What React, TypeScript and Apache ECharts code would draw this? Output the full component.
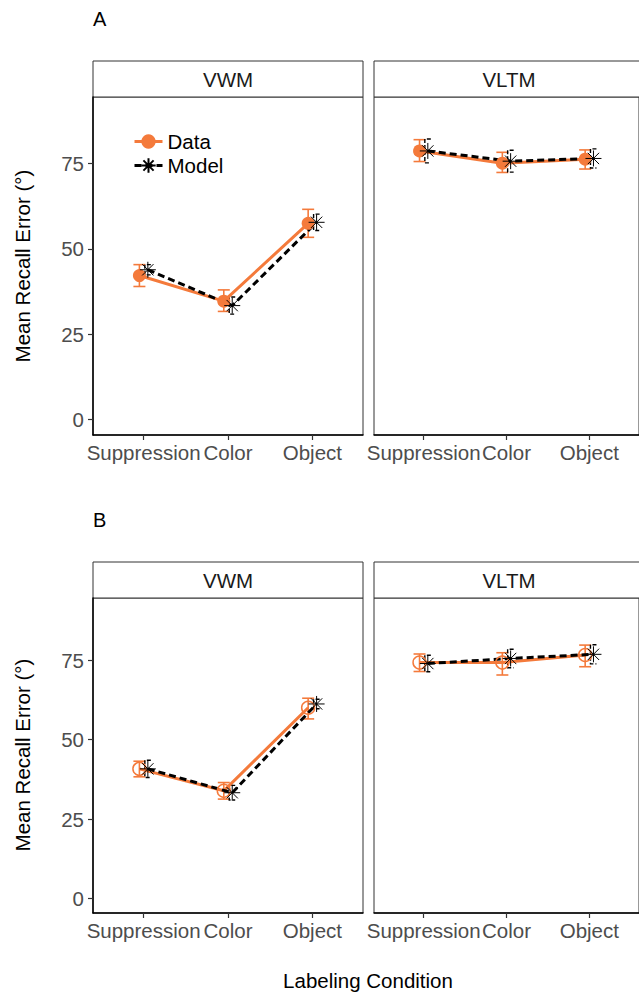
import React, { useEffect, useRef } from 'react';
import * as echarts from 'echarts';

// ---------- data ----------
const categories = ['Suppression', 'Color', 'Object'];
const yTicks = [0, 25, 50, 75];
const panelNames = ['VWM', 'VLTM'];
const seriesNames = ['Data', 'Model'];
const rowLabels = ['A', 'B'];
const xTitle = 'Labeling Condition';
const yTitle = 'Mean Recall Error (°)';

// Panel A, VWM
const aVwmData = [42.2, 34.7, 57.5];
const aVwmDataLo = [39.0, 31.7, 53.4];
const aVwmDataHi = [45.4, 38.0, 61.6];
const aVwmModel = [43.9, 33.4, 57.8];
const aVwmModelErr = [1.5, 2.5, 2.4];

// Panel A, VLTM
const aVltmData = [78.7, 75.1, 76.3];
const aVltmDataLo = [75.6, 72.4, 73.4];
const aVltmDataHi = [82.0, 78.3, 79.0];
const aVltmModel = [78.7, 75.7, 76.5];
const aVltmModelErr = [3.5, 3.2, 2.8];

// Panel B, VWM
const bVwmData = [40.8, 33.9, 60.0];
const bVwmDataLo = [38.3, 31.3, 56.5];
const bVwmDataHi = [43.2, 36.5, 63.0];
const bVwmModel = [40.8, 33.3, 61.2];
const bVwmModelErr = [2.7, 2.3, 1.5];

// Panel B, VLTM
const bVltmData = [74.2, 74.2, 76.6];
const bVltmDataLo = [71.4, 70.3, 72.9];
const bVltmDataHi = [76.9, 77.3, 79.7];
const bVltmModel = [73.9, 75.5, 76.8];
const bVltmModelErr = [2.6, 2.9, 3.0];

// ---------- styling ----------
const ORANGE = '#F47A3B';
const FONT = '"Liberation Sans", Arial, Helvetica, sans-serif';
const DODGE = 0.05;
const ASTERISK = 'path://M10,0L10,20M0,10L20,10M2.93,2.93L17.07,17.07M2.93,17.07L17.07,2.93';

const panels = [
  { grid: { left: 93, top: 97, width: 270, height: 338 }, data: aVwmData, lo: aVwmDataLo, hi: aVwmDataHi, model: aVwmModel, err: aVwmModelErr, filled: true, first: true, strip: 0 },
  { grid: { left: 374, top: 97, width: 270, height: 338 }, data: aVltmData, lo: aVltmDataLo, hi: aVltmDataHi, model: aVltmModel, err: aVltmModelErr, filled: true, first: false, strip: 1 },
  { grid: { left: 93, top: 598, width: 270, height: 315 }, data: bVwmData, lo: bVwmDataLo, hi: bVwmDataHi, model: bVwmModel, err: bVwmModelErr, filled: false, first: true, strip: 0 },
  { grid: { left: 374, top: 598, width: 270, height: 315 }, data: bVltmData, lo: bVltmDataLo, hi: bVltmDataHi, model: bVltmModel, err: bVltmModelErr, filled: false, first: false, strip: 1 },
];

function errRender(color: string, dashed: boolean) {
  return (params: any, api: any) => {
    const x = api.value(0);
    const top = api.coord([x, api.value(2)]);
    const bot = api.coord([x, api.value(1)]);
    if (dashed) {
      const cx = top[0] - 3;
      return {
        type: 'polyline',
        shape: { points: [[cx + 6, top[1]], [cx, top[1]], [cx, bot[1]], [cx + 6, bot[1]]] },
        style: { stroke: color, lineWidth: 1.4, lineDash: [4, 2], fill: null },
      };
    }
    const w = 6;
    return {
      type: 'group',
      children: [
        { type: 'line', shape: { x1: top[0], y1: top[1], x2: bot[0], y2: bot[1] }, style: { stroke: color, lineWidth: 1.6 } },
        { type: 'line', shape: { x1: top[0] - w, y1: top[1], x2: top[0] + w, y2: top[1] }, style: { stroke: color, lineWidth: 1.6 } },
        { type: 'line', shape: { x1: bot[0] - w, y1: bot[1], x2: bot[0] + w, y2: bot[1] }, style: { stroke: color, lineWidth: 1.6 } },
      ],
    };
  };
}

export default function App() {
  const ref = useRef<HTMLDivElement>(null);
  useEffect(() => {
    if (!ref.current) return;
    const chart = echarts.init(ref.current, null, { renderer: 'svg' });
    const xTickValues = categories.map((_, i) => i + 1);

    const grids: any[] = [];
    const xAxes: any[] = [];
    const yAxes: any[] = [];
    const series: any[] = [];

    panels.forEach((p, i) => {
      grids.push({ ...p.grid, show: true, borderColor: '#333', borderWidth: 1, backgroundColor: 'transparent' });
      xAxes.push({
        type: 'value', gridIndex: i, min: 0.4, max: 3.6,
        splitLine: { show: false },
        axisLine: { show: true, onZero: false, lineStyle: { color: '#000', width: 1.5 } },
        axisTick: { show: true, customValues: xTickValues, length: 5, lineStyle: { color: '#333', width: 1.2 } },
        axisLabel: {
          show: true, customValues: xTickValues, margin: 7,
          formatter: (v: number) => categories[Math.round(v) - 1] ?? '',
          fontSize: 20.5, color: '#4D4D4D', fontFamily: FONT,
        },
      });
      yAxes.push({
        type: 'value', gridIndex: i, min: -4.5, max: 94.5,
        splitLine: { show: false },
        axisLine: { show: p.first, onZero: false, lineStyle: { color: '#000', width: 1.5 } },
        axisTick: { show: p.first, customValues: yTicks, length: 5, lineStyle: { color: '#333', width: 1.2 } },
        axisLabel: { show: p.first, customValues: yTicks, margin: 9, fontSize: 20.5, color: '#4D4D4D', fontFamily: FONT },
      });

      const dataPts = p.data.map((v, k) => [k + 1 - DODGE, v]);
      const modelPts = p.model.map((v, k) => [k + 1 + DODGE, v]);
      const dataErr = p.data.map((_, k) => [k + 1 - DODGE, p.lo[k], p.hi[k]]);
      const modelErr = p.model.map((v, k) => [k + 1 + DODGE, v - p.err[k], v + p.err[k]]);

      series.push({
        type: 'custom', name: 'dataErr' + i, xAxisIndex: i, yAxisIndex: i,
        renderItem: errRender(ORANGE, false), data: dataErr, encode: { x: 0, y: [1, 2] }, silent: true,
      });
      series.push({
        type: 'line', name: seriesNames[0], xAxisIndex: i, yAxisIndex: i, data: dataPts,
        symbol: 'circle', symbolSize: 13, showSymbol: true,
        lineStyle: { color: ORANGE, width: 3 },
        itemStyle: p.filled
          ? { color: ORANGE, borderColor: ORANGE, borderWidth: 0 }
          : { color: 'rgba(255,255,255,0)', borderColor: ORANGE, borderWidth: 1.5 },
        silent: true,
      });
      series.push({
        type: 'custom', name: 'modelErr' + i, xAxisIndex: i, yAxisIndex: i,
        renderItem: errRender('#000', true), data: modelErr, encode: { x: 0, y: [1, 2] }, silent: true,
      });
      series.push({
        type: 'line', name: seriesNames[1], xAxisIndex: i, yAxisIndex: i, data: modelPts,
        symbol: ASTERISK, symbolSize: 16, showSymbol: true,
        lineStyle: { color: '#000', width: 3, type: [7, 4] },
        itemStyle: { color: '#000', borderColor: '#000', borderWidth: 1 },
        silent: true,
      });
    });

    const graphics: any[] = [];
    panels.forEach((p) => {
      const g = p.grid;
      graphics.push({
        type: 'rect', shape: { x: g.left, y: g.top - 36, width: g.width, height: 36 },
        style: { fill: '#fff', stroke: '#333', lineWidth: 1 }, silent: true,
      });
      graphics.push({
        type: 'text', x: g.left + g.width / 2, y: g.top - 18,
        style: { text: panelNames[p.strip], fontSize: 20.5, fontFamily: FONT, fill: '#1A1A1A', align: 'center', verticalAlign: 'middle' },
      });
    });
    graphics.push({ type: 'text', x: 93, y: 19, style: { text: rowLabels[0], fontSize: 20, fontFamily: FONT, fill: '#000', align: 'left', verticalAlign: 'middle' } });
    graphics.push({ type: 'text', x: 93, y: 520, style: { text: rowLabels[1], fontSize: 20, fontFamily: FONT, fill: '#000', align: 'left', verticalAlign: 'middle' } });
    graphics.push({ type: 'text', x: 368, y: 980, style: { text: xTitle, fontSize: 20.5, fontFamily: FONT, fill: '#000', align: 'center', verticalAlign: 'middle' } });
    graphics.push({ type: 'text', x: 22, y: 266, rotation: Math.PI / 2, style: { text: yTitle, fontSize: 20.5, fontFamily: FONT, fill: '#000', align: 'center', verticalAlign: 'middle' } });
    graphics.push({ type: 'text', x: 22, y: 755, rotation: Math.PI / 2, style: { text: yTitle, fontSize: 20.5, fontFamily: FONT, fill: '#000', align: 'center', verticalAlign: 'middle' } });

    chart.setOption({
      animation: false,
      backgroundColor: '#fff',
      textStyle: { fontFamily: FONT },
      grid: grids,
      xAxis: xAxes,
      yAxis: yAxes,
      legend: {
        data: seriesNames, orient: 'vertical', left: 128, top: 126,
        itemWidth: 28, itemHeight: 18, itemGap: 3, selectedMode: false,
        lineStyle: { width: 3 },
        textStyle: { fontSize: 20.5, color: '#000', fontFamily: FONT, lineHeight: 18, padding: 0 },
      },
      series,
      graphic: graphics,
    });
    return () => chart.dispose();
  }, []);
  return <div ref={ref} style={{ position: 'absolute', left: 0, top: 0, width: 639, height: 996 }} />;
}
